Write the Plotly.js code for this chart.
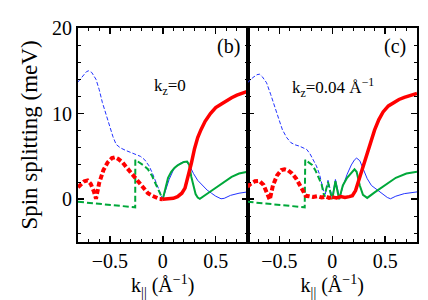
<!DOCTYPE html>
<html><head><meta charset="utf-8">
<script src="https://cdn.plot.ly/plotly-3.0.1.min.js"></script>
<style>html,body{margin:0;padding:0;background:#fff}</style>
</head><body>
<div id="chart" style="width:428px;height:300px"></div>
<script>
// ----- panel (b): kz = 0 -----
const bRedNegK = [-0.8,-0.77,-0.74,-0.71,-0.68,-0.65,-0.63,-0.60,-0.56,-0.52,-0.48,-0.45,-0.42,-0.38,-0.34,-0.30,-0.26,-0.22,-0.18,-0.14,-0.10,-0.06,-0.03,0];
const bRedNeg  = [1.4,1.8,2.1,2.2,1.8,0.9,0.05,1.9,3.4,4.3,4.8,4.9,4.7,4.3,3.7,3.1,2.5,1.8,1.15,0.7,0.4,0.15,0.03,0];
const bRedPosK = [0,0.05,0.10,0.14,0.18,0.21,0.24,0.27,0.30,0.33,0.36,0.40,0.45,0.50,0.55,0.60,0.65,0.70,0.75,0.8];
const bRedPos  = [0,0.02,0.1,0.3,0.7,1.3,2.6,4.2,5.9,7.2,8.1,9.1,10.0,10.7,11.1,11.5,11.85,12.15,12.4,12.6];

const bGrnNegK = [-0.8,-0.26,-0.259,-0.22,-0.18,-0.14,-0.10,-0.06,-0.03,0];
const bGrnNeg  = [-0.3,-0.95,4.6,4.3,3.95,3.5,2.7,1.6,0.8,0];
const bGrnPosK = [0,0.02,0.05,0.08,0.11,0.14,0.17,0.20,0.23,0.25,0.27,0.29,0.31,0.33,0.35,0.45,0.55,0.65,0.72,0.8];
const bGrnPos  = [0,1.1,2.5,3.2,3.65,3.95,4.2,4.35,4.4,4.0,2.6,1.4,0.6,0.2,0.05,0.9,1.8,2.6,3.0,3.2];

const bBluNegK = [-0.8,-0.76,-0.72,-0.70,-0.67,-0.63,-0.60,-0.57,-0.53,-0.50,-0.47,-0.44,-0.40,-0.35,-0.30,-0.25,-0.21,-0.17,-0.13,-0.10,-0.07,-0.04,0];
const bBluNeg  = [13.7,14.3,14.9,15.0,14.8,14.0,12.8,11.3,9.7,8.5,7.3,6.4,6.0,5.7,5.45,5.2,5.0,4.6,3.9,3.1,2.2,1.2,0];
const bBluPosK = [0,0.03,0.06,0.10,0.14,0.18,0.22,0.25,0.29,0.33,0.38,0.42,0.46,0.50,0.55,0.58,0.64,0.72,0.8];
const bBluPos  = [0,1.3,2.3,3.4,4.0,4.3,4.4,4.0,3.0,2.2,1.5,1.05,0.7,0.35,0.05,0.1,0.45,0.7,0.85];

// ----- panel (c): kz = 0.04 1/A -----
const cRedNegK = [-0.8,-0.77,-0.73,-0.69,-0.65,-0.62,-0.59,-0.56,-0.52,-0.48,-0.45,-0.42,-0.38,-0.34,-0.30,-0.27,-0.25,-0.22,-0.18,-0.14,-0.10,-0.06,-0.03,0];
const cRedNeg  = [1.45,1.8,2.1,2.15,1.7,0.9,-0.05,1.6,2.8,3.4,3.5,3.4,3.0,2.4,1.6,1.0,0.4,0.35,0.25,0.35,0.2,0.3,0.15,0.25];
const cRedPosK = [0,0.04,0.08,0.12,0.16,0.19,0.22,0.25,0.28,0.31,0.34,0.37,0.40,0.44,0.48,0.53,0.58,0.63,0.68,0.74,0.8];
const cRedPos  = [0.25,0.15,0.3,0.2,0.3,0.4,1.0,2.2,3.2,4.5,5.6,6.9,8.1,9.3,10.2,10.9,11.3,11.65,11.9,12.15,12.35];

const cGrnNegK = [-0.8,-0.26,-0.255,-0.22,-0.19,-0.16,-0.13,-0.10,-0.075,-0.06,-0.04,-0.02,0];
const cGrnNeg  = [-0.3,-0.95,4.6,4.3,4.0,3.4,2.6,1.7,0.3,1.0,2.0,0.9,0];
const cGrnPosK = [0,0.03,0.065,0.10,0.14,0.18,0.21,0.23,0.26,0.29,0.33,0.40,0.50,0.60,0.70,0.8];
const cGrnPos  = [0,2.1,0.0,1.6,2.5,3.1,3.5,3.2,1.6,0.5,0.15,0.8,1.7,2.5,3.0,3.2];

const cBluNegK = [-0.8,-0.75,-0.71,-0.687,-0.66,-0.62,-0.58,-0.54,-0.50,-0.47,-0.43,-0.39,-0.35,-0.31,-0.27,-0.24,-0.21,-0.18,-0.15,-0.12,-0.09,-0.07,-0.04,0];
const cBluNeg  = [13.6,14.2,14.55,14.6,14.3,13.6,12.2,10.6,9.2,8.1,7.2,6.6,6.35,6.2,6.0,5.8,5.3,4.6,3.9,2.9,1.5,0.3,2.2,0.2];
const cBluPosK = [0,0.03,0.07,0.10,0.14,0.18,0.21,0.23,0.26,0.29,0.33,0.37,0.42,0.47,0.52,0.55,0.60,0.68,0.8];
const cBluPos  = [0.2,2.3,0.1,1.5,2.9,4.0,4.6,4.8,4.5,3.6,2.4,1.6,1.1,0.6,0.2,0.05,0.35,0.65,0.85];

const yTickVals = [0,10,20];
const xTickVals = [-0.5,0,0.5];

const RED = '#ff0000', GRN = '#00a83a', BLU = '#2233ff';
function tr(x, y, color, width, dash, xa, ya) {
  return {x: x, y: y, type: 'scatter', mode: 'lines', xaxis: xa, yaxis: ya,
          line: {color: color, width: width, dash: dash}, hoverinfo: 'skip', showlegend: false};
}
const data = [
  tr(bBluNegK, bBluNeg, BLU, 1, '4px,2px', 'x', 'y'),
  tr(bBluPosK, bBluPos, BLU, 1, 'solid', 'x', 'y'),
  tr(bGrnNegK, bGrnNeg, GRN, 2, '6px,3px', 'x', 'y'),
  tr(bGrnPosK, bGrnPos, GRN, 2, 'solid', 'x', 'y'),
  tr(bRedNegK, bRedNeg, RED, 4, '5px,2.5px', 'x', 'y'),
  tr(bRedPosK, bRedPos, RED, 3.5, 'solid', 'x', 'y'),
  tr(cBluNegK, cBluNeg, BLU, 1, '4px,2px', 'x2', 'y2'),
  tr(cBluPosK, cBluPos, BLU, 1, 'solid', 'x2', 'y2'),
  tr(cGrnNegK, cGrnNeg, GRN, 2, '6px,3px', 'x2', 'y2'),
  tr(cGrnPosK, cGrnPos, GRN, 2, 'solid', 'x2', 'y2'),
  tr(cRedNegK, cRedNeg, RED, 4, '5px,2.5px', 'x2', 'y2'),
  tr(cRedPosK, cRedPos, RED, 3.5, 'solid', 'x2', 'y2')
];

const FONT = 'Liberation Serif';
function xax(domain, anchor) {
  return {domain: domain, anchor: anchor, range: [-0.8, 0.8], showgrid: false, zeroline: false,
    showline: true, linecolor: '#000', linewidth: 2, mirror: 'ticks',
    ticks: 'inside', ticklen: 6, tickwidth: 1.5, tickcolor: '#000',
    tickvals: xTickVals, tickfont: {family: FONT, size: 20, color: '#000'},
    minor: {dtick: 0.1, tick0: 0, ticks: 'inside', ticklen: 3, tickwidth: 1, tickcolor: '#000'},
    title: {text: 'k<sub>||</sub> (Å<sup>−1</sup>)', font: {family: FONT, size: 20, color: '#000'}, standoff: 2}};
}
function yax(anchor, labels) {
  return {domain: [0, 1], anchor: anchor, range: [-5, 20], showgrid: false, zeroline: false,
    showline: true, linecolor: '#000', linewidth: 2, mirror: 'ticks',
    ticks: 'inside', ticklen: 6, tickwidth: 1.5, tickcolor: '#000',
    tickvals: yTickVals, showticklabels: labels, tickfont: {family: FONT, size: 20, color: '#000'},
    minor: {dtick: 2, tick0: 0, ticks: 'inside', ticklen: 3, tickwidth: 1, tickcolor: '#000'}};
}
const yA = yax('x', true);
yA.title = {text: 'Spin splitting (meV)', font: {family: FONT, size: 23, color: '#000'}, standoff: 8};
const layout = {
  width: 428, height: 300,
  margin: {l: 78, r: 11, t: 28, b: 58},
  paper_bgcolor: '#fff', plot_bgcolor: '#fff',
  font: {family: FONT, color: '#000'},
  xaxis: xax([0, 0.5], 'y'),
  xaxis2: xax([0.5, 1], 'y2'),
  yaxis: yA,
  yaxis2: yax('x2', false),
  annotations: [
    {xref: 'x', yref: 'y', x: 0.62, y: 17.8, text: '(b)', showarrow: false, font: {family: FONT, size: 20, color: '#000'}},
    {xref: 'x', yref: 'y', x: 0.07, y: 13.1, text: 'k<sub>z</sub>=0', showarrow: false, font: {family: FONT, size: 17, color: '#000'}},
    {xref: 'x2', yref: 'y2', x: 0.59, y: 17.8, text: '(c)', showarrow: false, font: {family: FONT, size: 20, color: '#000'}},
    {xref: 'x2', yref: 'y2', x: 0.01, y: 13.1, text: 'k<sub>z</sub>=0.04 Å<sup>−1</sup>', showarrow: false, font: {family: FONT, size: 17, color: '#000'}}
  ]
};
Plotly.newPlot('chart', data, layout, {displayModeBar: false, staticPlot: true});
</script>
</body></html>
